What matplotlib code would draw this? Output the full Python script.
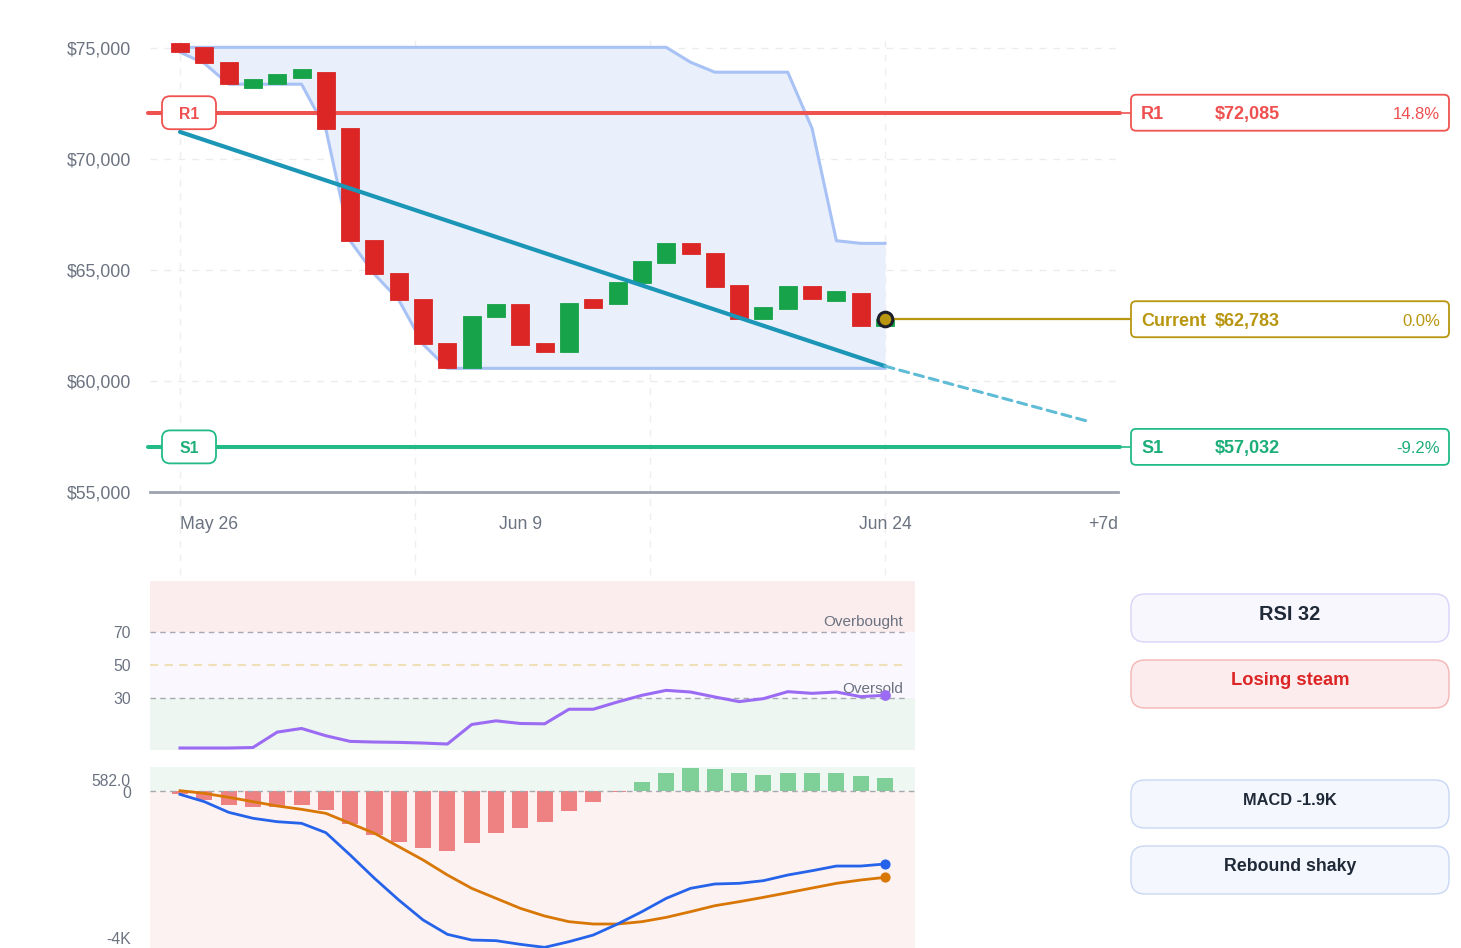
import numpy as np
import matplotlib.pyplot as plt
from matplotlib.patches import FancyBboxPatch

plt.rcParams['font.family'] = ['Liberation Sans', 'DejaVu Sans']

W, H = 1461, 948

# daily candles May 26 .. Jun 24
days = np.arange(30)
opens = [75210, 75060, 74380, 73190, 73370, 73640, 73920, 71380, 66350, 64850,
         63710, 61700, 60570, 62900, 63450, 61700, 61320, 63680, 63450, 64430,
         65310, 66220, 65750, 64320, 62790, 63230, 64280, 63600, 63980, 62480]
closes = [74810, 74310, 73370, 73590, 73820, 74040, 71340, 66310, 64810, 63650,
          61650, 60570, 62940, 63460, 61620, 61310, 63530, 63270, 64470, 65390,
          66220, 65710, 64250, 62790, 63320, 64280, 63690, 64050, 62480, 62783]

# price channel
chan_hi = [75030] * 21 + [74360, 73910, 73910, 73910, 73910, 71380, 66320, 66200, 66200]
chan_lo = [74810, 74310, 73370, 73370, 73370, 73370, 71340, 66310, 64810, 63650, 61650] + [60570] * 19

# trend line (day 0 -> day 29) and projection end
trend_x = [0, 29]
trend_y = [71220, 60670]
proj_x = [29, 37.4]
proj_y = [60670, 58170]

r1, s1, current = 72085, 57032, 62783
levels = [('R1', r1, '#ef5350', '#ef4f4f'), ('Current', current, '#b8960f', '#b8960f'),
          ('S1', s1, '#22bb85', '#1cae79')]

price_ticks = [55000, 60000, 65000, 70000, 75000]
date_ticks = [0, 14, 29]
date_labels = ['May 26', 'Jun 9', 'Jun 24']

rsi = [0, 0, 0, 0.3, 9.6, 11.8, 7.4, 4.0, 3.6, 3.4, 3.0, 2.4, 14.2, 16.4, 14.8,
       14.6, 23.4, 23.4, 27.8, 31.8, 34.8, 33.8, 30.8, 28.0, 29.8, 34.0, 33.0, 33.8, 31.0, 31.8]

macd = [-95, -284, -560, -715, -804, -846, -1088, -1667, -2271, -2834, -3351, -3723,
        -3870, -3887, -3982, -4060, -3913, -3741, -3455, -3136, -2790, -2531, -2418,
        -2401, -2332, -2185, -2074, -1953, -1953, -1900]
signal = [0, -69, -171, -284, -396, -483, -587, -846, -1104, -1451, -1796, -2185,
          -2531, -2790, -3049, -3248, -3395, -3455, -3455, -3395, -3283, -3136, -2981,
          -2877, -2764, -2644, -2523, -2401, -2315, -2246]
hist = [-86, -242, -372, -432, -414, -380, -500, -864, -1149, -1321, -1477, -1555,
        -1347, -1088, -967, -820, -527, -285, -26, 233, 466, 582, 561, 449, 406,
        466, 449, 466, 380, 337]

GRAY = '#6b7280'
unit = 705 / 29  # px per day

fig = plt.figure(figsize=(W / 100, H / 100), dpi=100)

# ---------------- main price panel ----------------
ax = fig.add_axes([150 / W, (H - 492) / H, 968 / W, 462 / H])
ax.set_xlim(-30 / unit, 938 / unit)
ax.set_ylim(55000, 55000 + 462 / 22.2 * 1000)

for v in price_ticks[1:]:
    ax.axhline(v, color='#ececec', lw=1, ls=(0, (5, 5)), zorder=0)
for v in np.linspace(0, 29, 4):
    ax.axvline(v, ymin=-0.18, ymax=0.98, color='#efefef', lw=1, ls=(0, (5, 5)),
               zorder=0, clip_on=False)

ax.fill_between(days, chan_lo, chan_hi, color='#e9f0fc', zorder=1, lw=0)
ax.plot(days, chan_hi, color='#a8c2f5', lw=2.2, zorder=2)
ax.plot(days, chan_lo, color='#a8c2f5', lw=2.2, zorder=2)

body = np.array(closes) - np.array(opens)
cols = ['#16a34a' if b >= 0 else '#dc2626' for b in body]
ax.bar(days, body, bottom=opens, width=0.74, color=cols, edgecolor=cols, lw=0.6, zorder=4)

ax.plot(trend_x, trend_y, color='#1b96b6', lw=3, solid_capstyle='round', zorder=5)
ax.plot(proj_x, proj_y, color='#5fbcd6', lw=2.2, ls=(0, (3, 2)), dash_capstyle='round', zorder=5,
        clip_on=False)

x_left = (148 - 180) / unit
x_line_end = (1120 - 180) / unit
x_box = (1131 - 180) / unit
for name, val, lc, tc in levels:
    if name == 'Current':
        ax.plot([29, x_box], [val, val], color=lc, lw=1.6, zorder=5, clip_on=False)
    else:
        ax.plot([x_left, x_line_end], [val, val], color=lc, lw=2.9,
                solid_capstyle='round', zorder=3, clip_on=False)
        ax.plot([x_line_end, x_box], [val, val], color=lc, lw=1.2, zorder=3, clip_on=False)

ax.scatter([29], [current], s=110, color='#b8960f', edgecolor='#1e1e2a', lw=2.2, zorder=7)

for s in ['top', 'right', 'left']:
    ax.spines[s].set_visible(False)
ax.spines['bottom'].set_color('#9ca3af')
ax.spines['bottom'].set_linewidth(2)
ax.set_yticks(price_ticks, ['${:,}'.format(v) for v in price_ticks])
ax.tick_params(axis='y', length=0, pad=13.7, labelsize=12.7, labelcolor=GRAY)
ax.set_xticks(date_ticks, date_labels)
ax.tick_params(axis='x', length=0, pad=17, labelsize=12.7, labelcolor=GRAY)
ax.get_xticklabels()[0].set_ha('left')
ax.annotate('+7d', xy=(1, 0), xycoords='axes fraction', xytext=(0, -17), textcoords='offset points',
            ha='right', va='top', fontsize=12.7, color=GRAY)

# ---------------- RSI panel ----------------
ax2 = fig.add_axes([150 / W, (H - 750) / H, 765 / W, 169 / H])
ax2.set_xlim(-30 / unit, 735 / unit)
ax2.set_ylim(-1.2, 100.8)
ax2.axhspan(70, 100.8, color='#fbeced', lw=0)
ax2.axhspan(30, 70, color='#faf8fe', lw=0)
ax2.axhspan(-1.2, 30, color='#edf6f1', lw=0)
ax2.axhline(70, color='#a8a8b0', lw=1, ls=(0, (4, 3)), xmax=0.99)
ax2.axhline(30, color='#a8a8b0', lw=1, ls=(0, (4, 3)), xmax=0.99)
ax2.axhline(50, color='#f0e0b8', lw=1.5, ls=(0, (4, 3)), xmax=0.99)
ax2.plot(days, rsi, color='#9b6cf3', lw=2.2, zorder=3)
ax2.scatter([29], [rsi[-1]], s=45, color='#9b6cf3', zorder=4)
ax2.annotate('Overbought', xy=(1, 70), xycoords=('axes fraction', 'data'), xytext=(-8.6, 7),
             textcoords='offset points', ha='right', va='center', fontsize=11, color=GRAY)
ax2.annotate('Oversold', xy=(1, 30), xycoords=('axes fraction', 'data'), xytext=(-8.6, 7),
             textcoords='offset points', ha='right', va='center', fontsize=11, color=GRAY)
for s in ax2.spines.values():
    s.set_visible(False)
ax2.set_xticks([])
ax2.set_yticks([30, 50, 70], ['30', '50', '70'])
ax2.tick_params(axis='y', length=0, pad=13.7, labelsize=11.3, labelcolor=GRAY)
for lbl in ax2.get_yticklabels():
    lbl.set_va('center_baseline')

# ---------------- MACD panel ----------------
ax3 = fig.add_axes([150 / W, 0, 765 / W, 181 / H])
ax3.set_xlim(-30 / unit, 735 / unit)
ax3.set_ylim(-4077, 614)
ax3.axhspan(0, 614, color='#eef7f2', lw=0)
ax3.axhspan(-4077, 0, color='#fcf2f1', lw=0)
hcols = ['#7fcf98' if h >= 0 else '#ee8282' for h in hist]
ax3.bar(days, hist, width=0.66, color=hcols, zorder=2)
ax3.axhline(0, color='#a8a8b0', lw=1, ls=(0, (4, 3)), zorder=3)
ax3.plot(days, signal, color='#d97706', lw=2, zorder=4)
ax3.plot(days, macd, color='#2563eb', lw=2, zorder=5)
ax3.scatter([29], [signal[-1]], s=40, color='#d97706', zorder=6)
ax3.scatter([29], [macd[-1]], s=40, color='#2563eb', zorder=6)
for s in ax3.spines.values():
    s.set_visible(False)
ax3.set_xticks([])
ax3.set_yticks([])
for val, lab, dy in [(582, '582.0', -13), (0, '0', -2.5), (-4000, '-4K', 6)]:
    ax3.annotate(lab, xy=(0, val), xycoords=('axes fraction', 'data'), xytext=(-13.7, dy * 0.72),
                 textcoords='offset points', ha='right', va='center', fontsize=11.3, color=GRAY)

# ---------------- overlay: labels and side boxes ----------------
ov = fig.add_axes([0, 0, 1, 1], zorder=10)
ov.set_xlim(0, W)
ov.set_ylim(H, 0)
ov.axis('off')
ov.patch.set_visible(False)


def py(a, v):
    return H - a.transData.transform((0, v))[1]


def box(x0, y0, w, h, r, fc, ec, lw=1.2):
    ov.add_patch(FancyBboxPatch((x0, y0), w, h, boxstyle=f'round,pad=0,rounding_size={r}',
                                fc=fc, ec=ec, lw=lw))


for name, val, lc, tc in levels:
    y = py(ax, val)
    box(1131, y - 18, 318, 36, 5, 'white', lc, 1.3)
    ov.text(1141, y + 2, name, ha='left', va='center', fontsize=13, fontweight='bold', color=tc)
    ov.text(1215, y + 2, '${:,}'.format(val), ha='left', va='center', fontsize=13,
            fontweight='bold', color=tc)
    pct = (val - current) / current * 100
    ov.text(1440, y + 2, f'{pct:.1f}%', ha='right', va='center', fontsize=12, color=tc)
    if name != 'Current':
        box(162, y - 16.5, 54, 33, 8, 'white', lc, 1.3)
        ov.text(189, y + 1.5, name, ha='center', va='center', fontsize=11.3,
                fontweight='bold', color=tc)

side = [
    ('RSI 32', 594, '#f8f7fe', '#d9d3f8', '#1f2937', 14.4),
    ('Losing steam', 660, '#fdeced', '#f4b4b4', '#dc2626', 13.2),
    ('MACD -1.9K', 780, '#f4f7fe', '#c9d7f3', '#1f2937', 11.8),
    ('Rebound shaky', 846, '#f4f7fe', '#c9d7f3', '#1f2937', 12.8),
]
for txt, y0, fc, ec, tc, fs in side:
    box(1131, y0, 318, 48, 14, fc, ec, 1.0)
    ov.text(1290, y0 + 20.5, txt, ha='center', va='center', fontsize=fs, fontweight='bold', color=tc)

fig.savefig('out.png', dpi=100)
